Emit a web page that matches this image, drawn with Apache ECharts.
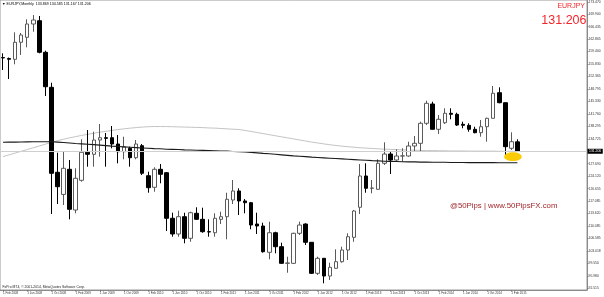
<!DOCTYPE html>
<html><head><meta charset="utf-8">
<script src="https://cdn.jsdelivr.net/npm/echarts@6/dist/echarts.min.js"></script>
<style>html,body{margin:0;padding:0;background:#fff}#c{width:604px;height:297px}</style>
</head><body><div id="c"></div>
<script>
// Monthly EURJPY candles, Feb 2008 .. Mar 2015
const openV = [157.70,157.44,157.21,162.02,163.43,167.19,168.12,159.19,149.29,125.26,
119.00,126.11,114.60,123.00,130.92,130.35,134.39,135.04,135.04,133.26,
131.09,132.05,129.39,132.78,124.30,121.02,126.11,125.15,112.26,107.82,
112.71,106.60,113.67,111.97,108.47,108.18,111.97,112.71,117.43,119.98,
117.15,116.67,110.64,110.08,102.64,108.18,104.23,99.53,99.53,108.01,
110.64,105.47,96.70,100.95,95.94,98.12,99.99,103.29,106.88,115.37,
124.22,120.74,120.46,127.81,130.43,128.74,129.87,129.87,132.70,133.46,
139.12,144.57,137.42,139.28,141.94,141.66,138.83,138.55,137.42,136.46,
138.15,140.53,147.77,144.94,132.05,133.869];
const closeV = [157.60,157.21,162.02,164.08,167.19,168.32,159.19,149.46,124.98,121.19,
126.39,114.80,123.57,130.92,130.35,134.39,135.04,134.87,133.26,131.09,
132.42,129.39,133.26,124.98,120.91,126.11,124.70,112.26,107.82,112.71,
106.60,113.84,111.97,108.47,108.40,112.26,112.71,117.63,119.98,117.15,
116.67,110.36,110.08,102.81,108.18,104.23,99.53,99.62,108.01,110.36,
105.47,96.70,100.95,95.94,98.40,99.99,103.29,107.05,114.32,124.22,
120.74,120.82,127.81,130.43,128.74,129.87,129.90,132.70,133.46,139.12,
144.77,137.42,140.25,141.94,141.66,138.63,138.55,137.42,136.46,138.15,
140.53,147.60,144.94,132.50,133.91,131.206];
const lowV = [154.19,151.64,155.80,158.43,160.60,165.01,158.90,146.83,113.47,116.30,
116.02,111.97,113.67,122.60,126.85,126.85,129.67,126.85,132.05,127.80,
128.94,126.85,128.94,124.50,119.49,119.78,122.15,108.67,107.05,107.05,
105.19,105.64,111.78,108.18,107.05,107.05,110.64,106.32,116.30,113.19,
113.67,109.15,107.82,102.53,100.66,102.36,99.34,96.87,99.34,107.53,
104.71,96.51,96.23,93.88,94.81,98.05,99.70,100.47,105.64,113.47,
119.49,119.33,120.26,127.33,124.78,128.26,128.26,129.67,131.09,131.09,
138.63,137.36,136.09,138.92,140.25,138.35,137.70,136.74,136.29,135.33,
133.91,140.47,144.77,130.15,131.57,131.167];
const highV = [158.91,157.72,164.84,164.65,168.52,169.73,169.45,159.64,150.59,130.80,
131.09,128.74,126.39,134.59,137.22,136.74,138.92,136.37,138.35,135.81,
135.33,132.50,134.39,133.26,125.43,126.68,127.61,125.35,113.84,114.41,
113.84,114.12,115.37,115.25,111.97,113.67,114.12,119.49,123.08,120.74,
117.71,116.86,113.84,111.01,111.30,108.47,105.36,101.40,108.18,111.30,
110.84,105.55,101.40,101.03,99.70,103.49,104.23,108.01,114.60,127.61,
127.81,123.08,128.94,133.74,131.09,131.77,132.05,133.91,135.52,139.57,
145.51,145.22,141.46,143.36,143.36,142.11,139.57,139.12,138.15,140.05,
140.70,149.66,149.29,145.00,136.57,134.585];
// moving averages
const maBlack = [133.75,133.78,133.80,133.83,133.86,133.88,133.90,133.90,133.88,133.80,
133.70,133.55,133.40,133.30,133.20,133.10,132.95,132.80,132.65,132.55,
132.45,132.35,132.25,132.15,132.05,131.95,131.90,131.80,131.75,131.70,
131.60,131.55,131.50,131.45,131.40,131.35,131.30,131.25,131.15,131.10,
131.00,130.90,130.75,130.60,130.50,130.35,130.20,130.05,129.90,129.80,
129.70,129.55,129.45,129.35,129.25,129.15,129.05,128.95,128.85,128.75,
128.65,128.55,128.50,128.40,128.35,128.30,128.25,128.20,128.20,128.15,
128.15,128.10,128.10,128.10,128.05,128.05,128.05,128.00,128.00,128.00,
128.00,128.00,127.95,127.95,127.95,127.95];
const maGrey = [129.70,130.20,130.70,131.20,131.70,132.20,132.70,133.20,133.75,134.20,
134.60,135.00,135.35,135.70,136.00,136.30,136.60,136.85,137.10,137.35,
137.55,137.75,137.90,138.05,138.15,138.20,138.20,138.20,138.15,138.10,
138.05,138.00,137.95,137.90,137.80,137.75,137.65,137.55,137.45,137.35,
137.10,136.80,136.50,136.20,135.90,135.60,135.30,135.00,134.70,134.40,
134.10,133.80,133.55,133.30,133.05,132.85,132.65,132.50,132.35,132.20,
132.10,132.00,131.90,131.80,131.75,131.70,131.60,131.55,131.50,131.45,
131.40,131.40,131.35,131.35,131.30,131.30,131.30,131.25,131.25,131.25,
131.25,131.25,131.20,131.20,131.20,131.20];
const yTicks = [173.470,169.900,166.435,162.865,159.400,155.830,152.365,148.795,145.330,141.760,138.295,134.725,
127.690,124.120,120.655,117.085,113.620,110.085,106.585,103.018,99.550,95.980,92.515];
const xTickLabels = ['1 Feb 2008','1 Jun 2008','1 Oct 2008','1 Feb 2009','1 Jun 2009','1 Oct 2009',
'1 Feb 2010','1 Jun 2010','1 Oct 2010','1 Feb 2011','1 Jun 2011','1 Oct 2011','1 Feb 2012','1 Jun 2012',
'1 Oct 2012','1 Feb 2013','1 Jun 2013','1 Oct 2013','1 Feb 2014','1 Jun 2014','1 Oct 2014','1 Feb 2015'];
const lastPrice = 131.206;
const titleText = '\u25BC EURJPY,Monthly  133.869 134.585 131.167 131.206';
const footText = 'FxPro MT4, \u00A9 2001-2014, MetaQuotes Software Corp.';
const watermark = '@50Pips | www.50PipsFX.com';

const nCats = 97; // includes empty right-side shift area
const categories = [];
for (let i = 0; i < nCats; i++) categories.push('m' + i);
const candles = openV.map((o, i) => [o, closeV[i], lowV[i], highV[i]]);
const nData = openV.length;
const FONT = '"Liberation Sans", Arial, sans-serif';

const chart = echarts.init(document.getElementById('c'), null, {renderer: 'canvas'});
chart.setOption({
  animation: false,
  backgroundColor: '#fff',
  grid: {left: 0, right: 17, top: 0, bottom: 7, show: true, borderColor: '#9a9a9a', borderWidth: 1},
  xAxis: {
    type: 'category', data: categories, boundaryGap: true,
    axisLine: {show: true, lineStyle: {color: '#8a8a8a', width: 1}},
    axisTick: {show: true, alignWithLabel: true, length: 1.5, lineStyle: {color: '#777'},
      interval: (i) => i % 4 === 0 && i < nData},
    axisLabel: {show: true, interval: (i) => i % 4 === 0 && i < nData,
      formatter: (v, i) => (i % 4 === 0 && i < nData) ? xTickLabels[i / 4] : '',
      fontSize: 3, fontFamily: FONT, color: '#333', align: 'left', margin: 1.5},
    splitLine: {show: false}
  },
  yAxis: {
    type: 'value', position: 'right', min: 91.986, max: 173.976, scale: true,
    splitLine: {show: false},
    axisLine: {show: true, lineStyle: {color: '#8a8a8a', width: 1}},
    axisTick: {show: true, customValues: yTicks, length: 1.5, lineStyle: {color: '#777'}},
    axisLabel: {customValues: yTicks, formatter: (v) => v.toFixed(3), fontSize: 3.4,
      fontFamily: FONT, color: '#333', margin: 1.5}
  },
  series: [
    {type: 'line', data: maGrey, symbol: 'none', lineStyle: {color: '#c4c4c4', width: 1}, z: 1},
    {type: 'candlestick', data: candles, barWidth: 4,
      itemStyle: {color: '#ffffff', color0: '#000000', borderColor: '#5a5a5a', borderColor0: '#000000', borderWidth: 1},
      markLine: {silent: true, symbol: 'none', animation: false,
        lineStyle: {color: '#cfcfcf', width: 1, type: 'solid'},
        label: {show: true, position: 'end', formatter: String(lastPrice.toFixed(3)), backgroundColor: '#000',
          color: '#fff', fontSize: 3.4, fontFamily: FONT, padding: [1, 1.5], distance: 0.5},
        data: [{yAxis: lastPrice}]},
      z: 2},
    {type: 'line', data: maBlack, symbol: 'none', lineStyle: {color: '#1a1a1a', width: 1.1}, z: 3}
  ]
});

const p = chart.convertToPixel({seriesIndex: 1}, [nData - 1, 129.67]);
chart.setOption({
  graphic: [
    {type: 'ellipse', shape: {cx: p[0] - 4.5, cy: p[1], rx: 8.8, ry: 4.4}, style: {fill: '#fbcb06'}, z: 100},
    {type: 'text', left: 2, top: 1.5, style: {text: titleText, font: '3.6px ' + FONT, fill: '#000'}, z: 100},
    {type: 'text', left: 2.5, top: 285.5, style: {text: footText, font: '3.4px ' + FONT, fill: '#222'}, z: 100},
    {type: 'text', right: 19, top: 2.5, style: {text: 'EURJPY', font: '7px ' + FONT, fill: '#f2262a'}, z: 100},
    {type: 'text', right: 17.5, top: 14, style: {text: lastPrice.toFixed(3), font: '12.5px ' + FONT, fill: '#f2262a'}, z: 100},
    {type: 'text', left: 450, top: 202, style: {text: watermark, font: '7.8px ' + FONT, fill: '#a3282c'}, z: 100}
  ]
});
</script>
</body></html>
